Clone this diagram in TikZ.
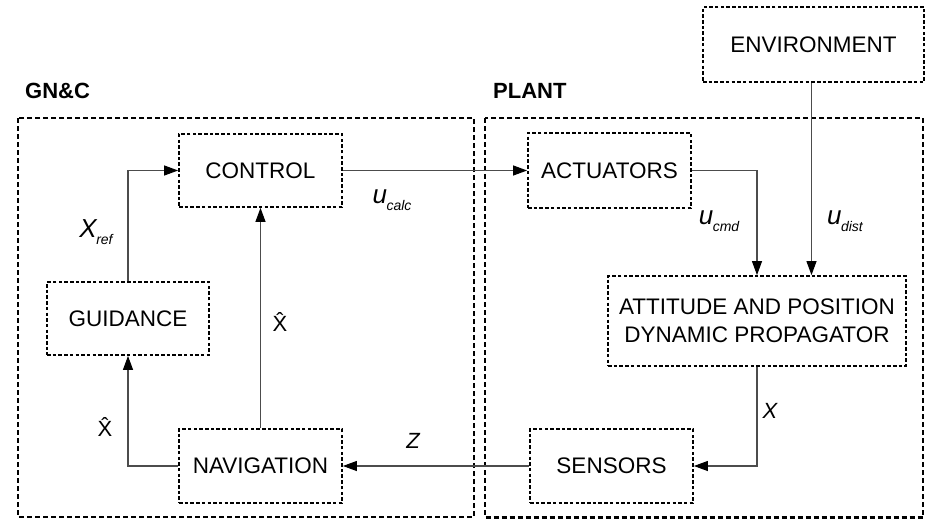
\documentclass[tikz,border=0pt]{standalone}
\usepackage{fontspec}
\setmainfont{Liberation Sans}
\usetikzlibrary{arrows.meta,calc}
\newcommand\xhatsym{X̂}
\newcommand\sublbl[2]{{\fontsize{26}{26}\selectfont\itshape #1}\kern-0.5pt\raisebox{-0.32em}{\fontsize{14}{14}\selectfont\itshape #2}}
\begin{document}
\begin{tikzpicture}[x=1pt,y=-1pt,
  blk/.style={draw=black,line width=1.8pt,dash pattern=on 3.5pt off 2.2pt,
    align=center,inner sep=0pt,font=\fontsize{22.5}{28}\selectfont},
  outer/.style={draw=black,line width=2.4pt,dash pattern=on 5pt off 3pt},
  arr/.style={draw=black!70,line width=1.1pt,-{Triangle[length=14pt,width=10pt,fill=black,color=black]}},
  ttl/.style={font=\fontsize{22}{22}\selectfont\bfseries,inner sep=0pt,anchor=west},
  lbl/.style={inner sep=0pt,font=\fontsize{22}{22}\selectfont}]
\useasboundingbox (0,0) rectangle (927,519);
% outer groups
\draw[outer] (18,118) rectangle (474,517);
\draw[outer] (485,118) rectangle (923,517.5);
\node[ttl] (gnct) at (25,91) {GN\&C};
\node[ttl] (plantt) at (493,91) {PLANT};
% blocks
\node[blk,minimum width=163pt,minimum height=73pt] (ctrl) at (260.5,170.5) {CONTROL};
\node[blk,minimum width=162pt,minimum height=73pt] (guid) at (128,318.5) {GUIDANCE};
\node[blk,minimum width=163pt,minimum height=74pt] (nav) at (260.5,466) {NAVIGATION};
\node[blk,minimum width=221pt,minimum height=75pt] (env) at (813.5,44.5) {ENVIRONMENT};
\node[blk,minimum width=163pt,minimum height=75pt] (act) at (609.5,170.5) {ACTUATORS};
\node[blk,minimum width=298pt,minimum height=90pt] (att) at (757,321) {ATTITUDE AND POSITION\\DYNAMIC PROPAGATOR};
\node[blk,minimum width=163pt,minimum height=74pt] (sens) at (611.5,466) {SENSORS};
% connectors
\draw[arr] (guid.north) |- (ctrl.west);
\draw[arr] (nav.north) -- (ctrl.south);
\draw[arr] (nav.west) -| (guid.south);
\draw[arr] (ctrl.east) -- (act.west);
\draw[arr] (sens.west) -- (nav.east);
\draw[arr] (act.east) -| (att.north);
\coordinate (envin) at ($(env.south)+(-2,0)$);
\draw[arr] (envin) -- (envin |- att.north);
\draw[arr] (att.south) |- (sens.east);
% labels
\node[lbl] (lxref) at (96,232) {\sublbl{X}{ref}};
\node[lbl] (lxh1) at (280,322) {\xhatsym};
\node[lbl] (lxh2) at (105,427) {\xhatsym};
\node[lbl] (lucalc) at (392,200) {\sublbl{u}{calc}};
\node[lbl] (lz) at (413,441) {\itshape Z};
\node[lbl] (lucmd) at (719,221) {\sublbl{u}{cmd}};
\node[lbl] (ludist) at (845,221) {\sublbl{u}{dist}};
\node[lbl] (lx) at (770,411) {\itshape X};
\end{tikzpicture}
\end{document}
